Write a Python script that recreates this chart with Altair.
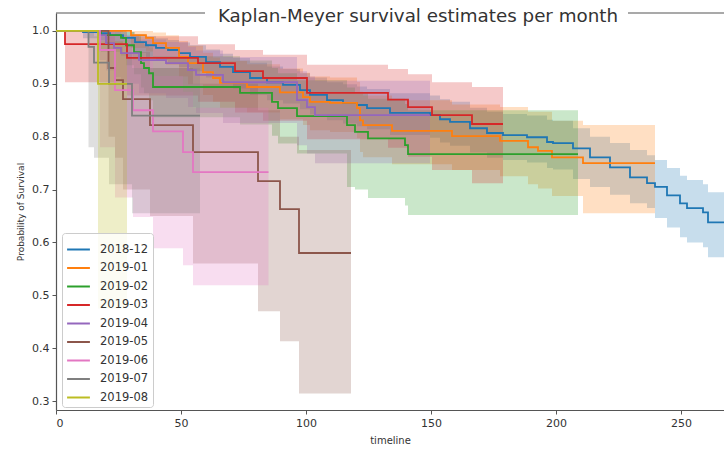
import altair as alt
import pandas as pd

FONT = "DejaVu Sans"

cohorts = ["2018-12", "2019-01", "2019-02", "2019-03", "2019-04",
           "2019-05", "2019-06", "2019-07", "2019-08"]
palette = ["#1f77b4", "#ff7f0e", "#2ca02c", "#d62728", "#9467bd",
           "#8c564b", "#e377c2", "#7f7f7f", "#bcbd22"]

# Kaplan-Meier step points per cohort: timeline, estimate, CI lower, CI upper
t_1812 = [0, 10.8, 17.2, 21.6, 26.8, 31.6, 36, 40, 44.8, 49.2, 53.6, 60, 65.6, 70.8, 77.6,
          84.4, 90.8, 97.6, 101.6, 108.4, 114.8, 120.4, 124.4, 133.6, 149.6, 153.6, 157.6,
          165.6, 172.4, 178.8, 188.4, 196.4, 198.8, 206.8, 213.6, 221.6, 229.6, 236.4,
          239.6, 244.4, 249.6, 252.4, 258.8, 260.8, 268]
s_1812 = [1.0, 0.998, 0.996, 0.992, 0.987, 0.979, 0.973, 0.968, 0.964, 0.958, 0.951, 0.941,
          0.932, 0.922, 0.911, 0.903, 0.898, 0.888, 0.879, 0.869, 0.864, 0.860, 0.854, 0.845,
          0.841, 0.833, 0.828, 0.816, 0.807, 0.803, 0.799, 0.790, 0.788, 0.778, 0.761, 0.742,
          0.723, 0.712, 0.705, 0.689, 0.674, 0.665, 0.657, 0.638, 0.638]
lo_1812 = [1.0, 0.986, 0.983, 0.977, 0.969, 0.959, 0.951, 0.945, 0.939, 0.932, 0.924, 0.912,
           0.902, 0.891, 0.879, 0.869, 0.863, 0.852, 0.842, 0.831, 0.825, 0.820, 0.814, 0.803,
           0.798, 0.789, 0.783, 0.770, 0.760, 0.756, 0.751, 0.741, 0.738, 0.720, 0.705, 0.690,
           0.674, 0.665, 0.646, 0.628, 0.610, 0.600, 0.591, 0.572, 0.572]
hi_1812 = [1.0, 1.0, 1.0, 1.0, 0.998, 0.994, 0.990, 0.986, 0.983, 0.978, 0.973, 0.965,
           0.957, 0.949, 0.940, 0.933, 0.928, 0.920, 0.912, 0.903, 0.899, 0.895, 0.890, 0.882,
           0.878, 0.871, 0.866, 0.855, 0.847, 0.843, 0.840, 0.832, 0.830, 0.816, 0.800, 0.788,
           0.775, 0.765, 0.756, 0.741, 0.726, 0.718, 0.710, 0.695, 0.695]

t_1901 = [0, 30, 36, 38.8, 44, 49.2, 52.8, 58.8, 62.8, 65.6, 76.4, 89.6, 98.8, 101.6, 109.6,
          120.4, 121.6, 122.8, 134.4, 158.4, 177.6, 188.8, 192.8, 198.4, 210.8, 239.6]
s_1901 = [1.0, 0.992, 0.987, 0.977, 0.968, 0.951, 0.939, 0.922, 0.911, 0.902, 0.894, 0.884,
          0.875, 0.866, 0.864, 0.854, 0.831, 0.822, 0.811, 0.801, 0.792, 0.780, 0.773, 0.761,
          0.750, 0.750]
lo_1901 = [1.0, 0.968, 0.961, 0.948, 0.936, 0.914, 0.899, 0.879, 0.866, 0.855, 0.846, 0.833,
           0.822, 0.812, 0.809, 0.797, 0.771, 0.761, 0.748, 0.737, 0.725, 0.710, 0.702, 0.688,
           0.655, 0.655]
hi_1901 = [1.0, 1.0, 1.0, 0.997, 0.992, 0.981, 0.972, 0.959, 0.950, 0.943, 0.937, 0.929,
           0.921, 0.914, 0.912, 0.904, 0.885, 0.878, 0.869, 0.861, 0.856, 0.847, 0.847, 0.830,
           0.822, 0.822]

t_1902 = [0, 18, 26, 28, 31.2, 34, 35.2, 37.2, 38.8, 73.6, 86.4, 88.8, 96.4, 116.4, 119.6,
          124.8, 139.6, 140.8, 208.8]
s_1902 = [1.0, 0.992, 0.987, 0.973, 0.960, 0.939, 0.930, 0.920, 0.894, 0.883, 0.866, 0.854,
          0.839, 0.822, 0.809, 0.797, 0.784, 0.767, 0.767]
lo_1902 = [1.0, 0.960, 0.953, 0.935, 0.918, 0.893, 0.882, 0.869, 0.837, 0.823, 0.802, 0.787,
           0.768, 0.705, 0.700, 0.684, 0.670, 0.652, 0.652]
hi_1902 = [1.0, 1.0, 1.0, 0.998, 0.990, 0.980, 0.975, 0.969, 0.952, 0.944, 0.930, 0.920,
           0.907, 0.893, 0.882, 0.872, 0.862, 0.850, 0.850]

t_1903 = [0, 3.6, 28.4, 56.8, 71.6, 82.8, 100.4, 132.8, 140.8, 150.4, 166.4, 178.8]
s_1903 = [1.0, 0.975, 0.949, 0.939, 0.924, 0.911, 0.883, 0.870, 0.856, 0.841, 0.824, 0.824]
lo_1903 = [1.0, 0.903, 0.878, 0.866, 0.846, 0.830, 0.795, 0.779, 0.762, 0.737, 0.712, 0.712]
hi_1903 = [1.0, 1.0, 0.990, 0.975, 0.964, 0.955, 0.936, 0.928, 0.918, 0.903, 0.894, 0.894]

t_1904 = [0, 17.2, 20, 23.2, 26, 33.2, 44, 52.8, 56, 66.8, 96.4, 100.4, 103.6, 149.6]
s_1904 = [1.0, 0.992, 0.977, 0.968, 0.958, 0.945, 0.939, 0.926, 0.917, 0.903, 0.869, 0.856,
          0.841, 0.841]
lo_1904 = [1.0, 0.945, 0.925, 0.913, 0.900, 0.882, 0.873, 0.856, 0.845, 0.826, 0.784, 0.768,
           0.750, 0.750]
hi_1904 = [1.0, 1.0, 1.0, 0.998, 0.993, 0.984, 0.979, 0.970, 0.963, 0.951, 0.924, 0.914,
           0.906, 0.906]

t_1905 = [0, 21, 23.6, 26.8, 37.6, 54.8, 80.8, 89.6, 97.2, 118]
s_1905 = [1.0, 0.930, 0.907, 0.871, 0.822, 0.771, 0.716, 0.663, 0.580, 0.580]
lo_1905 = [1.0, 0.800, 0.760, 0.700, 0.650, 0.560, 0.470, 0.413, 0.314, 0.314]
hi_1905 = [1.0, 0.990, 0.980, 0.960, 0.930, 0.900, 0.850, 0.800, 0.775, 0.775]

t_1906 = [0, 17.6, 23.6, 30.8, 38.8, 50.8, 54.8, 85]
s_1906 = [1.0, 0.964, 0.888, 0.850, 0.810, 0.771, 0.733, 0.733]
lo_1906 = [1.0, 0.780, 0.685, 0.648, 0.589, 0.557, 0.519, 0.519]
hi_1906 = [1.0, 1.0, 0.970, 0.945, 0.915, 0.885, 0.855, 0.855]

t_1907 = [0, 13, 15.2, 21.2, 30.4, 57.6]
s_1907 = [1.0, 0.970, 0.940, 0.900, 0.840, 0.840]
lo_1907 = [1.0, 0.780, 0.760, 0.710, 0.655, 0.655]
hi_1907 = [1.0, 1.0, 0.990, 0.970, 0.930, 0.930]

t_1908 = [0, 16.8, 28.4]
s_1908 = [1.0, 0.900, 0.900]
lo_1908 = [1.0, 0.475, 0.475]
hi_1908 = [1.0, 0.980, 0.980]

times = [t_1812, t_1901, t_1902, t_1903, t_1904, t_1905, t_1906, t_1907, t_1908]
surv = [s_1812, s_1901, s_1902, s_1903, s_1904, s_1905, s_1906, s_1907, s_1908]
lower = [lo_1812, lo_1901, lo_1902, lo_1903, lo_1904, lo_1905, lo_1906, lo_1907, lo_1908]
upper = [hi_1812, hi_1901, hi_1902, hi_1903, hi_1904, hi_1905, hi_1906, hi_1907, hi_1908]

rows = []
for name, t, s, lo, hi in zip(cohorts, times, surv, lower, upper):
    for i in range(len(t)):
        rows.append({"cohort": name, "timeline": t[i], "km": s[i],
                     "lo": lo[i], "hi": hi[i], "step": i})
df = pd.DataFrame(rows)

W, H = 668, 397
x_scale = alt.Scale(domain=[0, 267.2], nice=False, zero=False)
y_scale = alt.Scale(domain=[0.283, 1.034], nice=False, zero=False)
color_scale = alt.Scale(domain=cohorts, range=palette)

x_axis = alt.Axis(values=[0, 50, 100, 150, 200, 250], format="d", title="timeline",
                  grid=False, domainColor="#555555", domainWidth=1.2, tickColor="#555555",
                  tickSize=4, labelPadding=3, labelFontSize=11, labelColor="#333333",
                  titleFontSize=10, titleFontWeight="normal", titleColor="#333333",
                  titlePadding=7, labelFont=FONT, titleFont=FONT)
y_axis = alt.Axis(values=[0.3, 0.4, 0.5, 0.6, 0.7, 0.8, 0.9, 1.0], format=".1f",
                  title="Probability of Survival", grid=False, domainColor="#555555",
                  domainWidth=1.2, tickColor="#555555", tickSize=4, labelPadding=3,
                  labelFontSize=11, labelColor="#333333", titleFontSize=9,
                  titleFontWeight="normal", titleColor="#333333", titlePadding=6,
                  labelFont=FONT, titleFont=FONT)

legend = alt.Legend(title=None, orient="none", legendX=6, legendY=220, zindex=2,
                    symbolType="stroke", symbolStrokeWidth=2, symbolSize=520,
                    symbolFillColor="transparent",
                    labelFontSize=11.5, labelFont=FONT, labelColor="#333333",
                    fillColor="rgba(255,255,255,0.8)", strokeColor="#cccccc",
                    cornerRadius=3, padding=4, rowPadding=0.5, labelOffset=9)

# confidence bands: drawn for every cohort in one layer, beneath the curves
bands = alt.Chart(df).mark_area(interpolate="step-after", fillOpacity=0.25).encode(
    x=alt.X("timeline:Q", scale=x_scale, axis=x_axis),
    y=alt.Y("hi:Q", scale=y_scale, axis=y_axis),
    y2=alt.Y2("lo:Q"),
    fill=alt.Fill("cohort:N", scale=color_scale, legend=legend),
)

# survival curves
curves = alt.Chart(df).mark_line(interpolate="step-after", strokeWidth=1.8, clip=True).encode(
    x=alt.X("timeline:Q", scale=x_scale),
    y=alt.Y("km:Q", scale=y_scale),
    color=alt.Color("cohort:N", scale=color_scale, legend=legend),
    order="step:Q",
)

# top frame line, interrupted where the title sits on it
frame_left = alt.Chart().mark_rule(color="#555555", strokeWidth=1.2).encode(
    x=alt.value(0), x2=alt.value(149), y=alt.value(0))
frame_right = alt.Chart().mark_rule(color="#555555", strokeWidth=1.2).encode(
    x=alt.value(572), x2=alt.value(W), y=alt.value(0))
title = alt.Chart(pd.DataFrame({"label": ["Kaplan-Meyer survival estimates per month"]})).mark_text(
    font=FONT, fontSize=18.3, color="#333333", align="center", baseline="alphabetic"
).encode(x=alt.value(362), y=alt.value(9), text="label:N")

chart = alt.layer(bands, curves, frame_left, frame_right, title).properties(
    width=W, height=H,
    autosize=alt.AutoSizeParams(type="none"),
    padding={"left": 56, "top": 13, "right": 0, "bottom": 40},
).configure_view(stroke=None)

chart.save("out.html", embed_options={"renderer": "svg", "actions": False})
